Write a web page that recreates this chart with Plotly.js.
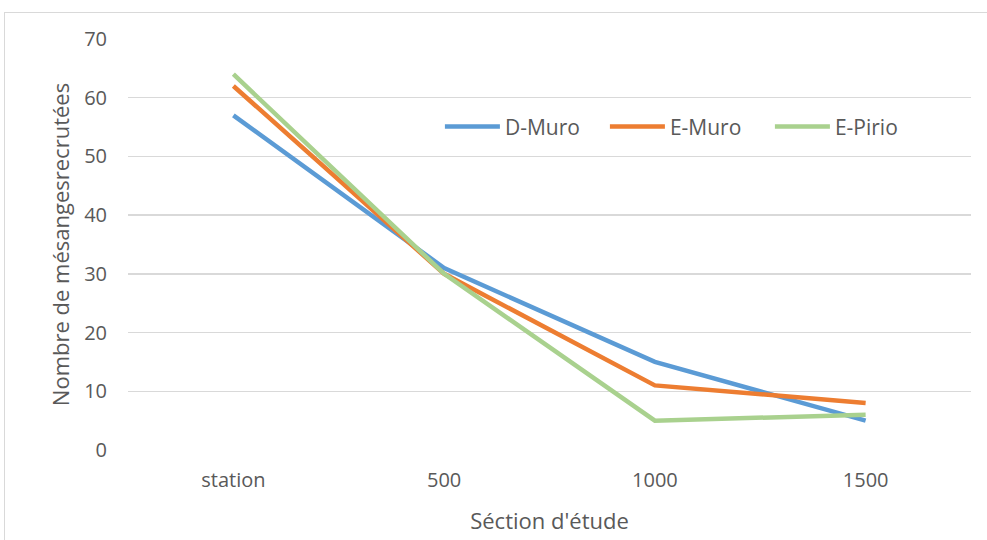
<!DOCTYPE html>
<html>
<head>
<meta charset="utf-8">
<script src="https://cdn.plot.ly/plotly-3.0.1.min.js"></script>
<style>
html,body{margin:0;padding:0;background:#fff;overflow:hidden;}
#frame{position:absolute;left:4px;top:12px;width:1100px;height:700px;border:1px solid #d9d9d9;}
#chart{position:absolute;left:0;top:0;width:987px;height:540px;}
</style>
</head>
<body>
<div id="frame"></div>
<div id="chart"></div>
<script>
const categories = ["station", "500", "1000", "1500"];
const dMuro = [57, 31, 15, 5];
const eMuro = [62, 30, 11, 8];
const ePirio = [64, 30, 5, 6];
const seriesNames = ["D-Muro", "E-Muro", "E-Pirio"];
const colors = ["#5B9BD5", "#ED7D31", "#A9D18E"];
const yTicks = [0, 10, 20, 30, 40, 50, 60, 70];

const data = [dMuro, eMuro, ePirio].map((v, i) => ({
  type: "scatter", mode: "lines", x: categories, y: v, name: seriesNames[i],
  line: {color: colors[i], width: 4.5}
}));

const font = "Open Sans, sans-serif";
const layout = {
  width: 987, height: 540,
  paper_bgcolor: "rgba(0,0,0,0)", plot_bgcolor: "rgba(0,0,0,0)",
  margin: {l: 128, r: 16, t: 39, b: 90},
  showlegend: true,
  legend: {orientation: "h", x: 0.37, y: 0.786, xanchor: "left", yanchor: "middle",
    itemwidth: 55, entrywidth: 95, tracegroupgap: 0,
    font: {family: font, size: 21, color: "#595959"}, bgcolor: "rgba(0,0,0,0)"},
  xaxis: {type: "category", range: [-0.5, 3.5], showgrid: false, zeroline: false, showline: false,
    ticks: "", ticklabelstandoff: 16, tickfont: {family: font, size: 20, color: "#595959"},
    title: {text: "Séction d'étude", font: {family: font, size: 22, color: "#595959"}, standoff: 21}},
  yaxis: {range: [0, 70], tickvals: yTicks, showgrid: true, gridcolor: "#d9d9d9", gridwidth: 1.5,
    zeroline: false, showline: false, ticks: "", ticklabelstandoff: 20,
    tickfont: {family: font, size: 20, color: "#595959"},
    title: {text: "Nombre de mésangesrecrutées", font: {family: font, size: 22, color: "#595959"}, standoff: 8}}
};
Plotly.newPlot("chart", data, layout, {displayModeBar: false, staticPlot: true});
</script>
</body>
</html>
